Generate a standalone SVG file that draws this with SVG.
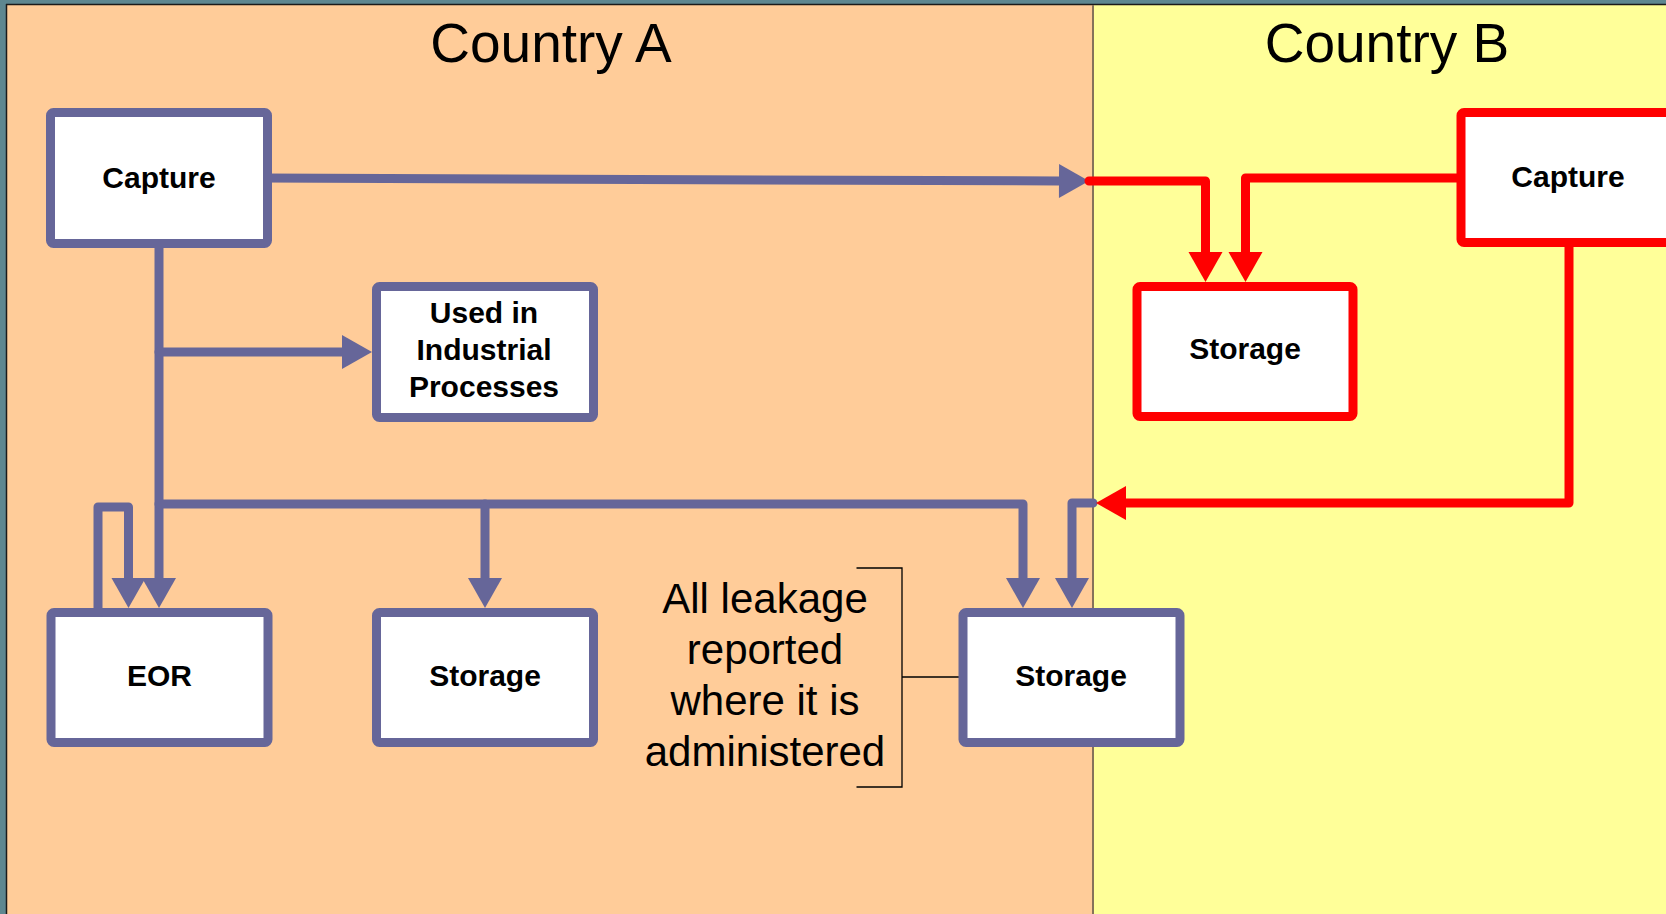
<svg xmlns="http://www.w3.org/2000/svg" width="1666" height="914" viewBox="0 0 1666 914">
<style>
.box{fill:#ffffff;stroke-width:9;stroke-linejoin:round}
.b{stroke:#666699}
.r{stroke:#ff0000}
.lbl{font-family:"Liberation Sans",Arial,sans-serif;font-weight:bold;font-size:30px;fill:#000;text-anchor:middle}
.title{font-family:"Liberation Sans",Arial,sans-serif;font-size:55px;fill:#000;text-anchor:middle}
.note{font-family:"Liberation Sans",Arial,sans-serif;font-size:42px;fill:#000;text-anchor:middle}
.cb{fill:none;stroke:#666699;stroke-width:9;stroke-linejoin:round;stroke-linecap:round}
.cr{fill:none;stroke:#ff0000;stroke-width:9;stroke-linejoin:round;stroke-linecap:round}
.ab{marker-end:url(#arrB)}
.ar{marker-end:url(#arrR)}
</style>
<defs>
<marker id="arrB" markerUnits="userSpaceOnUse" markerWidth="30" markerHeight="34" refX="0" refY="17" orient="auto" overflow="visible">
<path d="M0,0 L30,17 L0,34 Z" fill="#666699"/>
</marker>
<marker id="arrR" markerUnits="userSpaceOnUse" markerWidth="30" markerHeight="34" refX="0" refY="17" orient="auto" overflow="visible">
<path d="M0,0 L30,17 L0,34 Z" fill="#ff0000"/>
</marker>
</defs>
<g id="background">
<rect x="0" y="0" width="1666" height="914" fill="#5e8790"/>
<rect x="7" y="5" width="1086" height="909" fill="#ffcc99"/>
<rect x="1093" y="5" width="573" height="909" fill="#ffff99"/>
<line x1="6" y1="4.5" x2="1666" y2="4.5" stroke="#1a1a1a" stroke-width="1.5"/>
<line x1="6.5" y1="4" x2="6.5" y2="914" stroke="#1a1a1a" stroke-width="1.5"/>
<line x1="1093" y1="5" x2="1093" y2="914" stroke="#86735a" stroke-width="2"/>
<text class="title" x="551" y="62">Country A</text>
<text class="title" x="1387" y="62">Country B</text>
</g>
<g id="connectors">
<path class="cb ab" d="M262,178 L1059,181"/>
<path class="cb ab" d="M159,240 V578"/>
<path class="cb ab" d="M159,352 H342"/>
<path class="cb ab" d="M159,504 H1023 V578"/>
<path class="cb ab" d="M485,504 V578"/>
<path class="cb ab" d="M98,615 V507 H128.5 V578"/>
<path class="cb ab" d="M1093,503 H1072 V578"/>
<path class="cr ar" d="M1089,181 H1205.5 V252"/>
<path class="cr ar" d="M1465,178 H1245.5 V252"/>
<path class="cr ar" d="M1569,240 V503 H1126"/>
<path d="M856.5,568 H902 V787 H856.5 M902,677 H962" fill="none" stroke="#000" stroke-width="1.3"/>
</g>
<g id="captureA">
<rect class="box b" x="50.5" y="112.5" width="217" height="131" rx="3"/>
<text class="lbl" x="159" y="188">Capture</text>
</g>
<g id="industrial">
<rect class="box b" x="376.5" y="286.5" width="217" height="131" rx="3"/>
<text class="lbl" x="484" y="323">Used in</text>
<text class="lbl" x="484" y="360">Industrial</text>
<text class="lbl" x="484" y="397">Processes</text>
</g>
<g id="eor">
<rect class="box b" x="51" y="612.5" width="217" height="130" rx="3"/>
<text class="lbl" x="159.5" y="686">EOR</text>
</g>
<g id="storageA">
<rect class="box b" x="376.5" y="612.5" width="217" height="130" rx="3"/>
<text class="lbl" x="485" y="686">Storage</text>
</g>
<g id="storageC">
<rect class="box b" x="963" y="612.5" width="217" height="130" rx="3"/>
<text class="lbl" x="1071" y="686">Storage</text>
</g>
<g id="storageB">
<rect class="box r" x="1137" y="286.5" width="216" height="130" rx="3"/>
<text class="lbl" x="1245" y="359">Storage</text>
</g>
<g id="captureB">
<rect class="box r" x="1461" y="112.5" width="217" height="130" rx="3"/>
<text class="lbl" x="1568" y="187">Capture</text>
</g>
<g id="note">
<text class="note" x="765" y="613">All leakage</text>
<text class="note" x="765" y="664">reported</text>
<text class="note" x="765" y="715">where it is</text>
<text class="note" x="765" y="766">administered</text>
</g>
</svg>
